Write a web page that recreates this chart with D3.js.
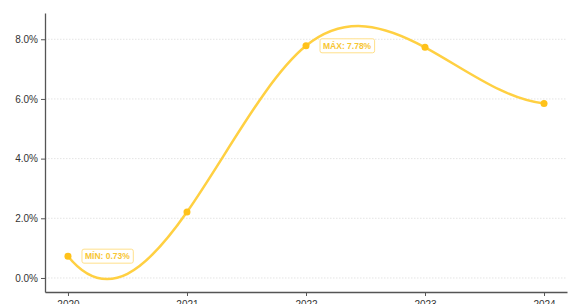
<!DOCTYPE html>
<html>
<head>
<meta charset="utf-8">
<script src="https://cdn.jsdelivr.net/npm/d3@7"></script>
<style>
  body { margin: 0; background: #fff; }
  svg { display: block; font-family: "Liberation Sans", Arial, sans-serif; }
</style>
</head>
<body>
<div id="chart"></div>
<script>
// data
const years = ["2020", "2021", "2022", "2023", "2024"];
const rates = [0.73, 2.21, 7.78, 7.73, 5.85];
const yTicks = [0, 2, 4, 6, 8];

const svgWidth = 568, svgHeight = 304;
const plotLeft = 45, plotTop = 13, plotRight = 567, plotBottom = 292;
const lineColor = "#ffd042";
const dotColor = "#ffc21a";

// cubic spline with "not-a-knot" ends, used as a d3 curve
function curveNotAKnot(context) {
    return {
        areaStart() {}, areaEnd() {},
        lineStart() { this._x = []; this._y = []; },
        point(x, y) { this._x.push(+x); this._y.push(+y); },
        lineEnd() {
            const xs = this._x, ys = this._y, n = xs.length;
            if (n < 4) { // fall back to straight segments
                xs.forEach((v, i) => i ? context.lineTo(v, ys[i]) : context.moveTo(v, ys[i]));
                return;
            }
            const h = d3.range(n - 1).map(i => xs[i + 1] - xs[i]);
            const A = d3.range(n).map(() => new Array(n).fill(0));
            const b = new Array(n).fill(0);
            // ends: third derivative continuous at second and second-last knot
            A[0][0] = -h[1]; A[0][1] = h[0] + h[1]; A[0][2] = -h[0];
            A[n - 1][n - 3] = -h[n - 2]; A[n - 1][n - 2] = h[n - 3] + h[n - 2]; A[n - 1][n - 1] = -h[n - 3];
            for (let i = 1; i < n - 1; i++) {
                A[i][i - 1] = h[i - 1];
                A[i][i] = 2 * (h[i - 1] + h[i]);
                A[i][i + 1] = h[i];
                b[i] = 6 * ((ys[i + 1] - ys[i]) / h[i] - (ys[i] - ys[i - 1]) / h[i - 1]);
            }
            // gaussian elimination
            for (let c = 0; c < n; c++) {
                let p = c;
                for (let r = c + 1; r < n; r++) if (Math.abs(A[r][c]) > Math.abs(A[p][c])) p = r;
                [A[c], A[p]] = [A[p], A[c]]; [b[c], b[p]] = [b[p], b[c]];
                for (let r = c + 1; r < n; r++) {
                    const f = A[r][c] / A[c][c];
                    for (let k = c; k < n; k++) A[r][k] -= f * A[c][k];
                    b[r] -= f * b[c];
                }
            }
            const M = new Array(n).fill(0);
            for (let r = n - 1; r >= 0; r--) {
                let s = b[r];
                for (let k = r + 1; k < n; k++) s -= A[r][k] * M[k];
                M[r] = s / A[r][r];
            }
            context.moveTo(xs[0], ys[0]);
            for (let i = 0; i < n - 1; i++) {
                const sl = (ys[i + 1] - ys[i]) / h[i];
                const d0 = sl - h[i] * (2 * M[i] + M[i + 1]) / 6;
                const d1 = sl + h[i] * (M[i] + 2 * M[i + 1]) / 6;
                context.bezierCurveTo(
                    xs[i] + h[i] / 3, ys[i] + d0 * h[i] / 3,
                    xs[i + 1] - h[i] / 3, ys[i + 1] - d1 * h[i] / 3,
                    xs[i + 1], ys[i + 1]);
            }
        }
    };
}

const svg = d3.select("#chart")
    .append("svg")
    .attr("width", svgWidth)
    .attr("height", svgHeight);

const x = d3.scalePoint()
    .domain(years)
    .range([plotLeft, plotRight])
    .padding(0.193);

const y = d3.scaleLinear()
    .domain([-0.47, 8.88])
    .range([plotBottom, plotTop]);

// grid lines
svg.append("g")
    .selectAll("line")
    .data(yTicks)
    .join("line")
    .attr("x1", plotLeft)
    .attr("x2", plotRight)
    .attr("y1", d => y(d))
    .attr("y2", d => y(d))
    .attr("stroke", "#e4e4e4")
    .attr("stroke-width", 1)
    .attr("stroke-dasharray", "1.5,1.5");

// axes
const yAxis = svg.append("g")
    .attr("transform", `translate(${plotLeft},0)`)
    .call(d3.axisLeft(y).tickValues(yTicks).tickFormat(d => d.toFixed(1) + "%").tickSize(4).tickSizeOuter(0));
const xAxis = svg.append("g")
    .attr("transform", `translate(0,${plotBottom})`)
    .call(d3.axisBottom(x).tickSize(4).tickSizeOuter(0));

[yAxis, xAxis].forEach(a => {
    a.select(".domain").attr("stroke", "#555").attr("stroke-width", 1.3);
    a.selectAll(".tick line").attr("stroke", "#555");
    a.selectAll("text").attr("fill", "#333").style("font-size", "10px");
});
xAxis.selectAll("text").attr("dy", "0.9em");

// the curve
const pts = years.map((yr, i) => [yr, rates[i]]);
const line = d3.line()
    .x(d => x(d[0]))
    .y(d => y(d[1]))
    .curve(curveNotAKnot);

svg.append("path")
    .datum(pts)
    .attr("d", line)
    .attr("fill", "none")
    .attr("stroke", lineColor)
    .attr("stroke-width", 2.5);

svg.append("g")
    .selectAll("circle")
    .data(pts)
    .join("circle")
    .attr("cx", d => x(d[0]))
    .attr("cy", d => y(d[1]))
    .attr("r", 3.5)
    .attr("fill", dotColor);

// min / max badges
const minI = rates.indexOf(d3.min(rates));
const maxI = rates.indexOf(d3.max(rates));
const badges = [
    { i: minI, text: `MÍN: ${rates[minI].toFixed(2)}%` },
    { i: maxI, text: `MÁX: ${rates[maxI].toFixed(2)}%` }
];

badges.forEach(b => {
    const g = svg.append("g")
        .attr("transform", `translate(${x(years[b.i]) + 13}, ${y(rates[b.i])})`);
    const t = g.append("text")
        .text(b.text)
        .attr("x", 4)
        .attr("y", 0)
        .attr("dy", "0.35em")
        .attr("fill", "#f7c634")
        .style("font-size", "8.5px")
        .style("font-weight", "bold");
    const bb = t.node().getBBox();
    g.insert("rect", "text")
        .attr("x", bb.x - 3)
        .attr("y", bb.y - 2)
        .attr("width", bb.width + 6)
        .attr("height", bb.height + 4)
        .attr("rx", 2)
        .attr("fill", "#fff")
        .attr("stroke", "#ffe08a")
        .attr("stroke-width", 1);
});
</script>
</body>
</html>
